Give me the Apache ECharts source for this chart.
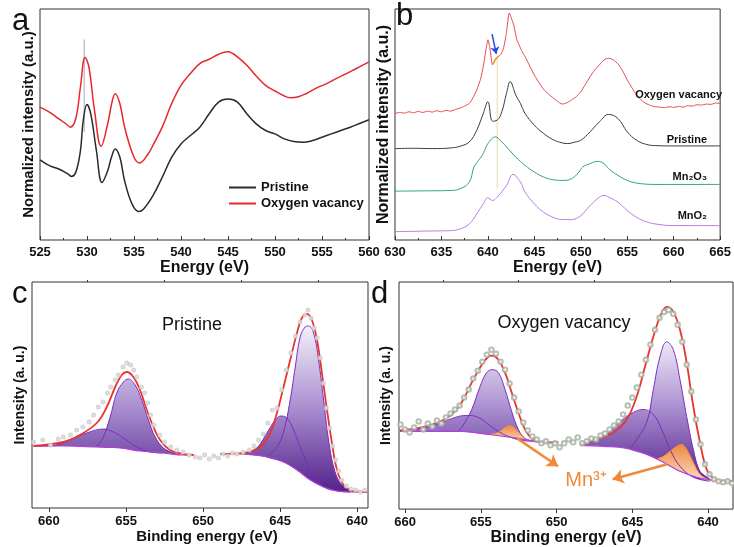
<!DOCTYPE html>
<html>
<head>
<meta charset="utf-8">
<script src="https://cdn.jsdelivr.net/npm/echarts@6/dist/echarts.min.js"></script>
<style>
html, body { margin: 0; padding: 0; background: #fff; }
#chart { width: 734px; height: 547px; }
</style>
</head>
<body>
<div id="chart"></div>
<script>
// panel a - O K-edge, normalized intensity (a.u.)
var aPristine = [[525,239],[526,222],[527,212],[528,197],[528.3,190],[528.8,202],[529.3,267],[529.6,357],[530,405],[530.4,377],[531,267],[531.6,172],[532.2,207],[532.6,247],[533,272],[533.5,247],[534,177],[534.8,107],[535.5,85],[536,92],[537,132],[538,187],[539,247],[540,287],[541,312],[542,337],[543,377],[544,412],[545,421],[546,412],[547,377],[548,347],[549,327],[550,317],[551,302],[552,294],[553,292],[554,297],[555,307],[556,317],[557,327],[558,337],[559,348],[560,359]];
var aVacancy = [[525,397],[526,382],[527,362],[528,342],[528.2,337],[528.8,362],[529.3,457],[529.8,545],[530.2,517],[530.8,387],[531.5,280],[532.2,347],[532.7,417],[533,437],[533.5,407],[534,337],[535,247],[535.6,230],[536.5,257],[537,282],[538,337],[539,407],[540,462],[541,497],[542,527],[543,540],[544,555],[545,562],[545.5,557],[546,547],[547,522],[548,490],[549,462],[550,445],[551,430],[551.6,425],[552.5,428],[553.3,437],[554.5,455],[555.5,467],[556.5,482],[557.6,497],[558.5,510],[560,532]];
var aMarker = [[529.7,599],[529.7,322]];

// panel b - Mn L-edge
var bVacancy = [[630,378],[630.5,381],[631,379],[631.5,383],[632,380],[632.5,384],[633,381],[633.5,385],[634,382],[634.5,386],[635,383],[635.5,387],[636,385],[636.5,390],[637,394],[637.5,400],[638,408],[638.4,425],[638.8,448],[639.2,480],[639.5,518],[639.8,570],[640,598],[640.2,575],[640.5,523],[640.7,535],[640.9,543],[641.1,548],[641.4,555],[641.7,575],[642,620],[642.3,678],[642.5,665],[642.8,640],[643.1,600],[643.4,580],[643.7,562],[644,548],[644.5,520],[645,493],[645.5,470],[646,450],[646.5,436],[647,425],[647.5,414],[648,406],[648.5,410],[649,418],[649.5,428],[650,443],[650.5,465],[651,488],[651.5,508],[652,523],[652.5,538],[653,543],[653.5,538],[654,526],[654.5,505],[655,478],[655.5,455],[656,433],[656.5,418],[657,408],[657.5,402],[658,398],[658.5,397],[659,395],[659.5,398],[660,396],[660.5,399],[661,397],[661.5,401],[662,400],[662.5,404],[663,403],[663.5,406],[664,405],[664.5,409],[665,408]];
var bPristine = [[630,273],[632,274],[634,273],[636,275],[637,280],[638,293],[638.8,328],[639.5,378],[640,413],[640.5,355],[641,358],[641.5,383],[642,438],[642.4,473],[643,433],[643.5,408],[644,378],[645,343],[646,318],[647,300],[648,290],[648.6,288],[649.3,292],[650,298],[651,323],[652,353],[653,375],[654,363],[655,323],[656,298],[657,286],[658,282],[660,281],[665,281]];
var bMn2O3 = [[630,146],[634,147],[636,148],[637,153],[638,173],[638.5,218],[639,238],[639.5,258],[640,288],[640.8,308],[641.5,293],[642,278],[643,248],[644,223],[645,203],[646,188],[647,180],[648,178],[649,183],[649.8,203],[650.2,218],[651,228],[651.8,235],[652.5,228],[653,213],[654,193],[655,178],[656,170],[658,166],[665,166]];
var bMnO2 = [[630,25],[634,27],[636,28],[637,33],[638,48],[638.8,78],[639.5,108],[640,126],[640.5,118],[641,128],[642,163],[642.7,196],[643.5,173],[644,143],[645,108],[646,83],[647,68],[648,61],[649,61],[650,73],[651,103],[652,128],[652.5,133],[653,128],[654,113],[655,88],[656,68],[657,55],[658,48],[660,43],[665,43]];
var bMarker = [[641,543],[641,153]];
var bShoulder = [[640.6,527],[640.9,543],[641.2,549]];
var bArrow = [[640.45,615],[640.9,556]];
var bLabels = ['Oxygen vacancy', 'Pristine', 'Mn₂O₃', 'MnO₂'];

// panel c - Mn 2p XPS, pristine
var cEnvLeft = [[661.0,62],[659.07,66],[658.0,73],[656.9,85],[656.25,101],[655.7,121],[655.28,133],[654.95,136],[654.52,131],[654.09,118],[653.65,98],[653.22,81],[652.79,68],[652.14,58],[651.3,54],[650.6,53]];
var cMainLeft = [[656.9,61],[656.47,71],[656.03,91],[655.6,115],[655.17,126],[654.85,129],[654.41,123],[653.98,108],[653.55,88],[653.11,71],[652.57,60],[651.93,55],[651.5,53]];
var cSatLeft = [[661.0,62],[659.93,62],[658.63,68],[657.55,75],[656.47,79],[655.82,76],[655.17,70],[654.3,61],[653.44,56],[652.6,55]];
var cBaseLeft = [[661.0,62],[659.07,62],[656.9,61],[655.39,60],[654.09,57],[652.57,55],[651.5,53],[650.6,53]];
var cEnvRight = [[648.89,54],[647.38,55],[646.3,61],[645.65,75],[645.21,95],[644.78,121],[644.35,148],[643.91,175],[643.59,190],[643.26,194],[642.94,188],[642.61,168],[642.29,135],[641.96,98],[641.64,65],[641.31,38],[640.88,23],[640.24,17],[639.37,16]];
var cMainRight = [[645.86,51],[645.21,61],[644.78,76],[644.35,108],[644.02,141],[643.7,171],[643.38,181],[643.16,182],[642.83,175],[642.51,148],[642.18,108],[641.86,68],[641.53,41],[641.1,25],[640.45,18],[639.59,16]];
var cSatRight = [[647.38,54],[646.51,60],[645.86,75],[645.32,88],[644.95,92],[644.56,90],[644.13,78],[643.7,61],[643.26,45],[642.83,31],[642.18,21],[641.31,17],[640.45,16]];
var cBaseRight = [[648.89,54],[647.38,54],[645.86,51],[644.78,46],[643.91,38],[643.05,28],[642.18,21],[641.31,17],[640.45,16],[639.37,16]];
var cPoints = [[661.0,66],[660.4,68],[659.9,63],[659.4,69],[659.07,71],[658.6,73],[658.2,78],[657.8,81],[657.4,86],[657.1,93],[656.8,101],[656.5,106],[656.2,115],[656.0,121],[655.7,128],[655.5,133],[655.2,141],[654.95,145],[654.7,143],[654.5,138],[654.3,131],[654.0,121],[653.8,115],[653.6,105],[653.4,93],[653.2,83],[652.8,73],[652.5,66],[652.1,61],[651.7,58],[651.3,56],[650.9,53],[650.5,51],[650.2,50],[649.9,53],[649.6,49],[649.3,52],[649.0,50],[648.7,54],[648.4,52],[648.1,55],[647.8,54],[647.4,56],[647.0,58],[646.7,62],[646.4,68],[646.1,74],[645.8,85],[645.5,98],[645.2,100],[644.9,118],[644.6,138],[644.3,155],[644.0,172],[643.7,186],[643.4,193],[643.2,198],[643.0,190],[642.8,180],[642.6,170],[642.4,150],[642.2,125],[642.0,100],[641.8,80],[641.6,62],[641.4,48],[641.2,37],[641.0,28],[640.7,22],[640.4,19],[640.1,18],[639.8,16],[639.5,18]];

// panel d - Mn 2p XPS, oxygen vacancy
var dEnvLeft = [[660.33,79],[658.9,82],[657.8,87],[656.92,95],[656.26,107],[655.6,127],[654.94,145],[654.5,153],[654.24,154],[653.84,150],[653.4,137],[652.96,117],[652.52,97],[652.08,80],[651.64,71],[650.98,67],[649.88,67]];
var dMainLeft = [[656.5,78],[656.26,82],[655.6,100],[655.05,123],[654.61,137],[654.24,140],[653.84,137],[653.4,120],[652.96,98],[652.52,80],[652.08,71],[651.42,68]];
var dSatLeft = [[660.33,79],[658.9,81],[657.58,87],[656.48,93],[655.82,94],[655.16,92],[654.5,85],[653.84,78],[653.18,73],[652.3,69],[651.4,68]];
var dMn3Left = [[654.5,75],[653.84,77],[653.4,82],[653.07,84],[652.74,81],[652.3,74],[651.86,69],[651.2,67]];
var dBaseLeft = [[660.33,78],[658.46,78],[656.26,78],[654.5,75],[652.96,72],[651.42,68],[649.88,67]];
var dEnvRight = [[648.45,65],[647.35,70],[646.25,77],[645.37,90],[644.71,113],[644.16,143],[643.61,173],[643.17,193],[642.72,203],[642.29,198],[641.85,180],[641.41,147],[640.97,103],[640.53,67],[640.09,40],[639.65,31],[638.99,28],[638.33,28]];
var dMainRight = [[645.15,60],[644.71,70],[644.05,87],[643.61,120],[643.17,153],[642.72,168],[642.29,160],[641.85,130],[641.41,93],[640.97,60],[640.53,38],[639.87,30]];
var dSatRight = [[648.45,64],[646.9,73],[645.8,88],[644.93,97],[644.27,100],[643.61,95],[643.06,80],[642.51,60],[641.85,43],[640.97,32],[639.87,28]];
var dMn3Right = [[643.4,50],[642.95,53],[642.51,58],[642.07,63],[641.74,65],[641.41,60],[640.97,47],[640.53,35],[639.87,29],[639.4,28]];
var dBaseRight = [[648.45,64],[646.9,63],[645.37,61],[644.05,55],[642.95,47],[641.85,38],[640.75,32],[639.65,29],[638.33,28]];
var dPoints = [[660.3,85],[660.0,80],[659.7,77],[659.4,82],[659.1,88],[658.8,80],[658.5,86],[658.2,83],[657.9,89],[657.6,86],[657.3,92],[657.0,96],[656.7,100],[656.4,104],[656.1,112],[655.8,120],[655.5,131],[655.2,139],[654.9,148],[654.6,155],[654.3,160],[654.0,156],[653.7,148],[653.4,140],[653.1,126],[652.8,112],[652.5,98],[652.2,87],[651.9,79],[651.6,73],[651.3,70],[651.0,66],[650.7,68],[650.4,64],[650.1,66],[649.8,62],[649.5,66],[649.2,70],[648.9,67],[648.6,72],[648.3,66],[648.0,68],[647.7,71],[647.4,70],[647.1,74],[646.8,76],[646.5,80],[646.2,84],[645.9,88],[645.6,95],[645.3,104],[645.0,112],[644.7,122],[644.4,135],[644.1,150],[643.8,165],[643.5,180],[643.2,192],[642.9,198],[642.6,200],[642.3,196],[642.0,185],[641.7,168],[641.4,145],[641.1,118],[640.8,90],[640.5,65],[640.2,45],[639.9,35],[639.6,30],[639.3,28],[639.0,27],[638.7,28],[638.4,26]];
var dArrows = [[[652.6,71],[649.9,43]], [[642.7,45],[646.3,30]]];

var xpsMajor = [640, 645, 650, 655, 660];
var xpsMinor = [642.5, 647.5, 652.5, 657.5];

var FONT = 'Liberation Sans, Arial, sans-serif';
var AX = '#333';

var chart = echarts.init(document.getElementById('chart'));

function line(xi, yi, name, data, color, width, smooth, z) {
    return {
        name: name, type: 'line', xAxisIndex: xi, yAxisIndex: yi, data: data,
        showSymbol: false, smooth: smooth, silent: true, z: z || 3,
        lineStyle: { color: color, width: width }, itemStyle: { color: color }
    };
}

// filled peak components: area between component curve and Shirley background
function areas(xi, yi, list, top, bottom) {
    return {
        type: 'custom', xAxisIndex: xi, yAxisIndex: yi, silent: true, z: 2,
        data: list.map(function (a) { return a.line[0]; }),
        renderItem: function (params, api) {
            var a = list[params.dataIndex];
            var hi = a.line[0][0], lo = a.line[a.line.length - 1][0];
            var pts = a.line.map(function (p) { return api.coord(p); });
            a.base.slice().reverse().forEach(function (p) {
                if (p[0] < hi && p[0] > lo) pts.push(api.coord(p));
            });
            var fill;
            if (a.orange) {
                fill = new echarts.graphic.LinearGradient(0, 0, 0, 1, [
                    { offset: 0, color: '#ee8840' }, { offset: 1, color: '#fcdcc2' }]);
            } else {
                var y0 = api.coord([hi, top])[1], y1 = api.coord([hi, bottom])[1];
                fill = new echarts.graphic.LinearGradient(0, y0, 0, y1, [
                    { offset: 0, color: '#ffffff' }, { offset: 0.5, color: '#ae94d3' },
                    { offset: 1, color: '#53208a' }], true);
            }
            return { type: 'polygon', shape: { points: pts, smooth: 0.2 }, style: { fill: fill } };
        }
    };
}

function dots(xi, yi, data, size, color) {
    return {
        type: 'scatter', xAxisIndex: xi, yAxisIndex: yi, data: data, silent: true, z: 5,
        symbol: 'emptyCircle', symbolSize: size, itemStyle: { color: color, borderWidth: 1 }
    };
}

function energyAxis(gi, min, max, name) {
    return {
        type: 'value', gridIndex: gi, min: min, max: max, interval: 5,
        name: name, nameLocation: 'middle', nameGap: 17,
        nameTextStyle: { fontFamily: FONT, fontWeight: 'bold', fontSize: 16, color: '#111' },
        axisLine: { show: false },
        axisTick: { inside: true, length: 4, lineStyle: { color: AX } },
        minorTick: { show: true, splitNumber: 2, length: 2, lineStyle: { color: AX } },
        axisLabel: { margin: 6, fontFamily: FONT, fontWeight: 'bold', fontSize: 13, color: '#111' },
        splitLine: { show: false }
    };
}

function bindingAxis(gi, min, max, size) {
    return {
        type: 'value', gridIndex: gi, min: min, max: max, inverse: true,
        name: 'Binding energy (eV)', nameLocation: 'middle', nameGap: 16,
        nameTextStyle: { fontFamily: FONT, fontWeight: 'bold', fontSize: size, color: '#111', padding: gi === 2 ? [0, 0, 0, 14] : 0 },
        axisLine: { show: false },
        axisTick: { length: 4, customValues: xpsMajor, lineStyle: { color: AX } },
        axisLabel: { margin: 7, customValues: xpsMajor, fontFamily: FONT, fontWeight: 'bold', fontSize: 13, color: '#111' },
        splitLine: { show: false }
    };
}

function minorAxis(gi, min, max) {
    return {
        type: 'value', gridIndex: gi, min: min, max: max, inverse: true,
        axisLine: { show: false },
        axisTick: { length: 2, customValues: xpsMinor, lineStyle: { color: AX } },
        axisLabel: { show: false }, splitLine: { show: false }
    };
}

function intensityAxis(gi, max, name, size, gap) {
    return {
        type: 'value', gridIndex: gi, min: 0, max: max,
        name: name, nameLocation: 'middle', nameRotate: 90, nameGap: gap,
        nameTextStyle: { fontFamily: FONT, fontWeight: 'bold', fontSize: size, color: '#111' },
        axisLine: { show: false }, axisTick: { show: false }, axisLabel: { show: false },
        splitLine: { show: false }
    };
}

function txt(x, y, text, font, color, align) {
    return {
        type: 'text', x: x, y: y, silent: true, z: 100,
        style: { text: text, font: font, fill: color || '#111', align: align || 'left', verticalAlign: 'middle' }
    };
}

var grid = { show: true, borderColor: AX, borderWidth: 1, backgroundColor: 'transparent' };

var option = {
    animation: false,
    textStyle: { fontFamily: FONT },
    grid: [
        Object.assign({ left: 40, top: 9, width: 329, height: 231 }, grid),
        Object.assign({ left: 395, top: 9, width: 329, height: 231 }, grid),
        Object.assign({ left: 32, top: 282, width: 336, height: 226 }, grid),
        Object.assign({ left: 399, top: 282, width: 334, height: 228 }, grid)
    ],
    xAxis: [
        energyAxis(0, 525, 560, 'Energy (eV)'),
        energyAxis(1, 630, 665, 'Energy (eV)'),
        bindingAxis(2, 639.3, 661.1, 15),
        minorAxis(2, 639.3, 661.1),
        bindingAxis(3, 638.35, 660.4, 16),
        minorAxis(3, 638.35, 660.4)
    ],
    yAxis: [
        intensityAxis(0, 690, 'Normalized intensity (a.u.)', 15, 4),
        intensityAxis(1, 690, 'Normalized intensity (a.u.)', 16, 3),
        intensityAxis(2, 226, 'Intensity (a. u.)', 14, 5),
        intensityAxis(3, 228, 'Intensity (a. u.)', 14, 6)
    ],
    legend: {
        data: ['Pristine', 'Oxygen vacancy'], orient: 'vertical', left: 224, top: 176,
        icon: 'rect', itemWidth: 27, itemHeight: 2, itemGap: 3,
        textStyle: { fontFamily: FONT, fontWeight: 'bold', fontSize: 13, color: '#111' }
    },
    series: [
        // a
        line(0, 0, 'marker-a', aMarker, '#a8a8a8', 1, false, 2),
        line(0, 0, 'Pristine', aPristine, '#2a2a2a', 1.5, 0.4),
        line(0, 0, 'Oxygen vacancy', aVacancy, '#e8262b', 1.5, 0.4),
        // b
        line(1, 1, 'marker-b', bMarker, '#e8d9a8', 1, false, 2),
        line(1, 1, 'b-vacancy', bVacancy, '#e8474a', 1, 0.2),
        line(1, 1, 'b-pristine', bPristine, '#3c3c3c', 1, 0.4),
        line(1, 1, 'b-mn2o3', bMn2O3, '#34a27a', 1, 0.4),
        line(1, 1, 'b-mno2', bMnO2, '#b77ce2', 1, 0.4),
        Object.assign(line(1, 1, 'b-shoulder', bShoulder, '#f0a030', 1.5, 0.3, 4), {
            markLine: {
                silent: true, symbol: ['none', 'arrow'], symbolSize: 7, label: { show: false },
                lineStyle: { color: '#2a48e0', width: 1.5, type: 'solid' },
                data: [[{ coord: bArrow[0] }, { coord: bArrow[1] }]]
            }
        }),
        // c
        areas(2, 2, [
            { line: cSatLeft, base: cBaseLeft }, { line: cMainLeft, base: cBaseLeft },
            { line: cSatRight, base: cBaseRight }, { line: cMainRight, base: cBaseRight }
        ], 195, 15),
        line(2, 2, 'c-sat-l', cSatLeft, '#7a2cc0', 1, 0.4),
        line(2, 2, 'c-main-l', cMainLeft, '#7a2cc0', 1, 0.4),
        line(2, 2, 'c-sat-r', cSatRight, '#7a2cc0', 1, 0.4),
        line(2, 2, 'c-main-r', cMainRight, '#7a2cc0', 1, 0.4),
        line(2, 2, 'c-base-l', cBaseLeft, '#b23fe0', 1.2, 0.4),
        line(2, 2, 'c-base-r', cBaseRight, '#b23fe0', 1.2, 0.4),
        line(2, 2, 'c-env-l', cEnvLeft, '#e8332e', 1.8, 0.4, 4),
        line(2, 2, 'c-env-r', cEnvRight, '#e8332e', 1.8, 0.4, 4),
        dots(2, 2, cPoints, 3, '#cccccc'),
        // d
        areas(4, 3, [
            { line: dSatLeft, base: dBaseLeft }, { line: dMainLeft, base: dBaseLeft },
            { line: dSatRight, base: dBaseRight }, { line: dMainRight, base: dBaseRight },
            { line: dMn3Left, base: dBaseLeft, orange: true }, { line: dMn3Right, base: dBaseRight, orange: true }
        ], 185, 25),
        line(4, 3, 'd-sat-l', dSatLeft, '#7a2cc0', 1, 0.4),
        line(4, 3, 'd-main-l', dMainLeft, '#7a2cc0', 1, 0.4),
        line(4, 3, 'd-sat-r', dSatRight, '#7a2cc0', 1, 0.4),
        line(4, 3, 'd-main-r', dMainRight, '#7a2cc0', 1, 0.4),
        line(4, 3, 'd-mn-l', dMn3Left, '#ef8a3c', 1, 0.4),
        Object.assign(line(4, 3, 'd-mn-r', dMn3Right, '#ef8a3c', 1, 0.4), {
            markLine: {
                silent: true, symbol: ['none', 'arrow'], symbolSize: 11, label: { show: false },
                lineStyle: { color: '#f08a3a', width: 2.5, type: 'solid' },
                data: dArrows.map(function (a) { return [{ coord: a[0] }, { coord: a[1] }]; })
            }
        }),
        line(4, 3, 'd-base-l', dBaseLeft, '#b23fe0', 1.2, 0.4),
        line(4, 3, 'd-base-r', dBaseRight, '#b23fe0', 1.2, 0.4),
        line(4, 3, 'd-env-l', dEnvLeft, '#e8332e', 1.8, 0.4, 4),
        line(4, 3, 'd-env-r', dEnvRight, '#e8332e', 1.8, 0.4, 4),
        dots(4, 3, dPoints, 4.5, '#a3afa3')
    ],
    graphic: [
        txt(12, 21, 'a', 'normal 31px ' + FONT),
        txt(396, 16, 'b', 'normal 31px ' + FONT),
        txt(12, 294, 'c', 'normal 31px ' + FONT),
        txt(371, 294, 'd', 'normal 31px ' + FONT),
        txt(722, 95, bLabels[0], 'bold 11px ' + FONT, '#111', 'right'),
        txt(707, 140, bLabels[1], 'bold 11px ' + FONT, '#111', 'right'),
        txt(707, 177, bLabels[2], 'bold 11px ' + FONT, '#111', 'right'),
        txt(707, 216, bLabels[3], 'bold 11px ' + FONT, '#111', 'right'),
        txt(192, 325, 'Pristine', 'normal 18px ' + FONT, '#111', 'center'),
        txt(564, 323, 'Oxygen vacancy', 'normal 18px ' + FONT, '#111', 'center'),
        txt(586, 480, 'Mn³⁺', 'normal 20px ' + FONT, '#f08a3a', 'center')
    ]
};

chart.setOption(option);
</script>
</body>
</html>
